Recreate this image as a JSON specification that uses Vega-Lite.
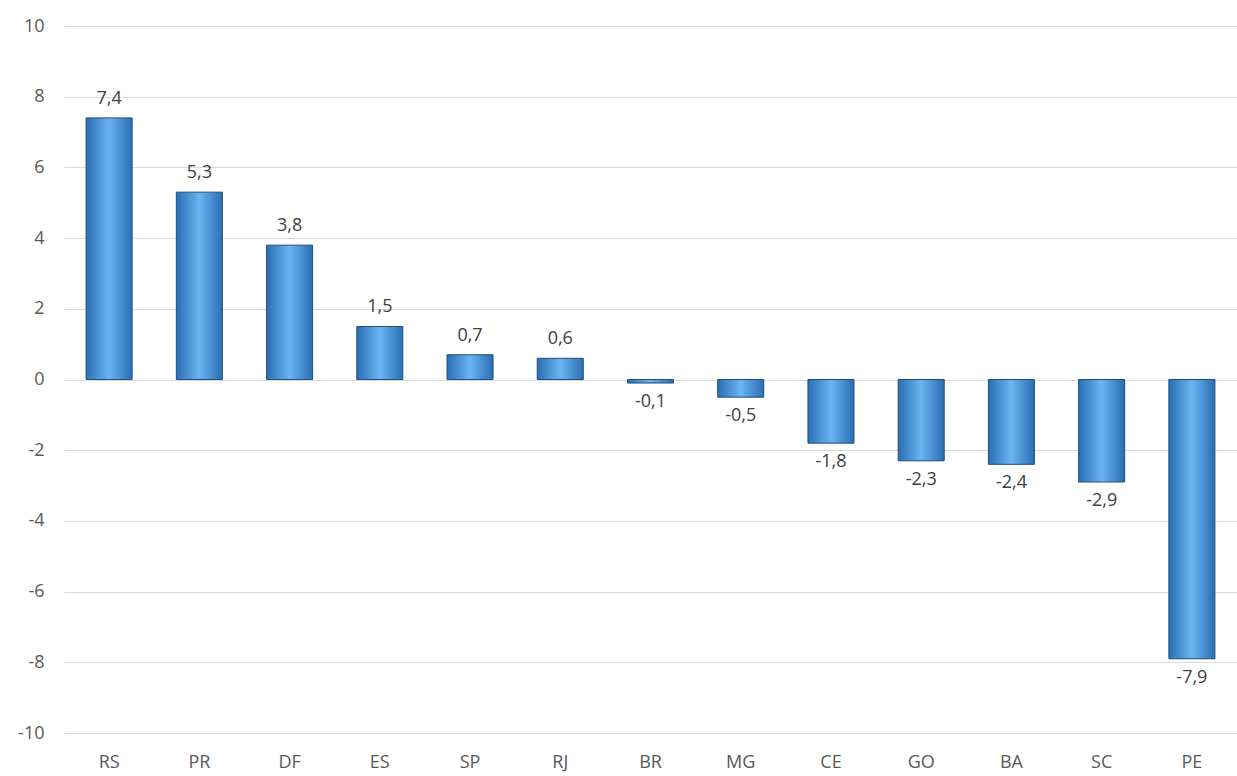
{
"$schema":"https://vega.github.io/schema/vega-lite/v6.json",
"autosize":{"type":"none"},
"width":1173,"height":707,
"padding":{"left":64,"top":26,"right":0,"bottom":43},
"background":"white",
"data":{"values":[
{"uf":"RS","v":7.4,"t":"7,4"},{"uf":"PR","v":5.3,"t":"5,3"},{"uf":"DF","v":3.8,"t":"3,8"},
{"uf":"ES","v":1.5,"t":"1,5"},{"uf":"SP","v":0.7,"t":"0,7"},{"uf":"RJ","v":0.6,"t":"0,6"},
{"uf":"BR","v":-0.1,"t":"-0,1"},{"uf":"MG","v":-0.5,"t":"-0,5"},{"uf":"CE","v":-1.8,"t":"-1,8"},
{"uf":"GO","v":-2.3,"t":"-2,3"},{"uf":"BA","v":-2.4,"t":"-2,4"},{"uf":"SC","v":-2.9,"t":"-2,9"},
{"uf":"PE","v":-7.9,"t":"-7,9"}]},
"config":{"view":{"stroke":null},"font":"Liberation Sans"},
"encoding":{
"x":{"field":"uf","type":"nominal","sort":null,"scale":{"paddingInner":0.49,"paddingOuter":0.245},
"axis":{"title":null,"labelAngle":0,"domain":false,"ticks":false,"labelPadding":20,"labelFontSize":18,"labelColor":"#595959","labelFont":"Open Sans"}},
"y":{"field":"v","type":"quantitative","scale":{"domain":[-10,10],"nice":false},
"axis":{"title":null,"values":[-10,-8,-6,-4,-2,0,2,4,6,8,10],"labelExpr":"toString(datum.value)","domain":false,"ticks":false,"labelPadding":20,"labelFontSize":18,"labelColor":"#595959","labelFont":"Open Sans","gridColor":"#d9d9d9","gridWidth":1}}
},
"layer":[
{"mark":{"type":"bar","stroke":"#1f4e79","strokeWidth":1,
"fill":{"gradient":"linear","x1":0,"x2":1,"y1":0,"y2":0,"stops":[{"offset":0,"color":"#2a6db3"},{"offset":0.5,"color":"#6ab4f2"},{"offset":1,"color":"#2a6db3"}]}},
"encoding":{"y2":{"datum":0}}},
{"transform":[{"filter":"datum.v>=0"}],"mark":{"type":"text","baseline":"bottom","dy":-10,"fontSize":18,"color":"#404040","font":"Open Sans"},"encoding":{"text":{"field":"t"}}},
{"transform":[{"filter":"datum.v<0"}],"mark":{"type":"text","baseline":"top","dy":10,"fontSize":18,"color":"#404040","font":"Open Sans"},"encoding":{"text":{"field":"t"}}}
]
}
